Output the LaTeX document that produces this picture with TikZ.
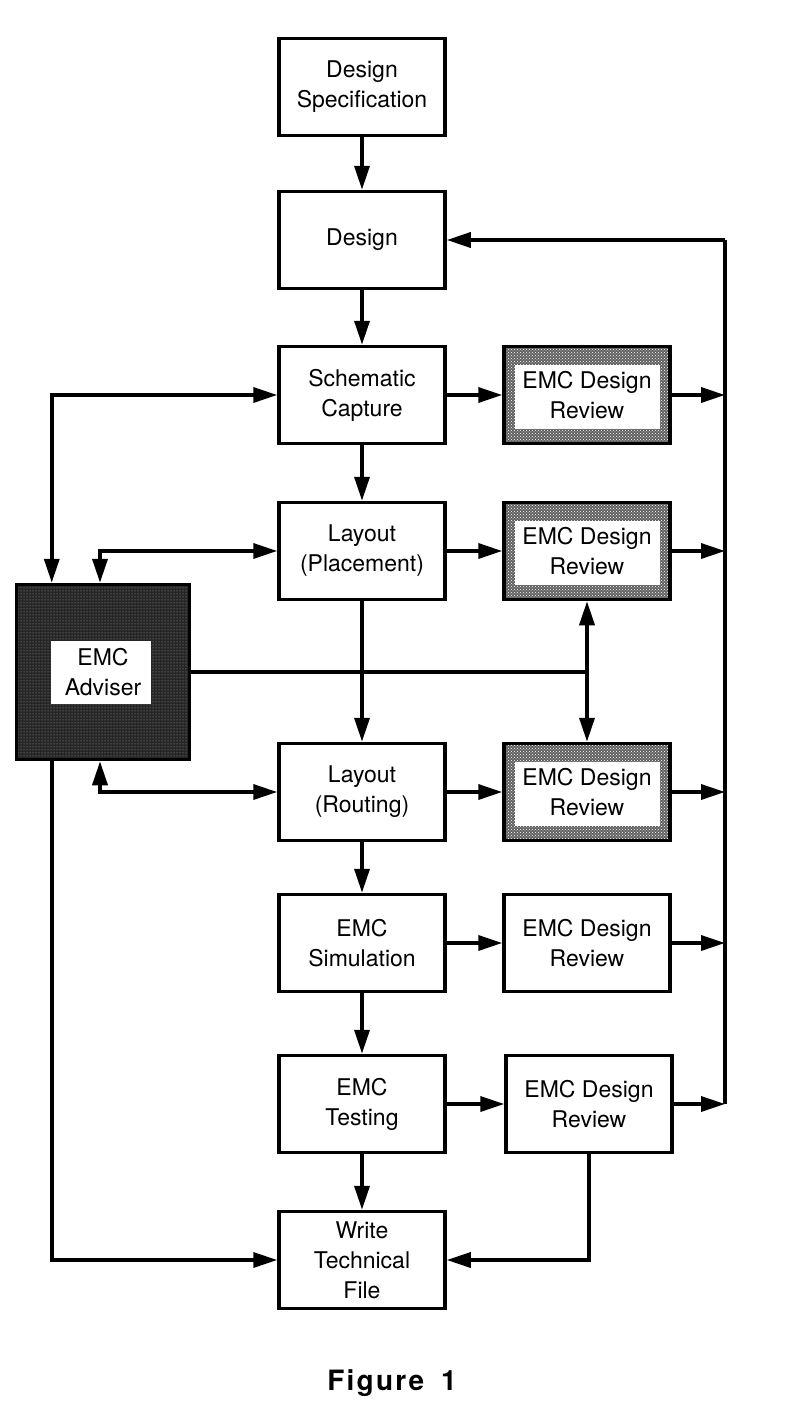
\documentclass[tikz,border=0pt]{standalone}
\usepackage{fontspec}
\setmainfont{TeX Gyre Heros}
\usetikzlibrary{arrows.meta,patterns,positioning}

\tikzset{
  box/.style={draw, line width=3.5pt, minimum width=166pt, minimum height=97pt,
    align=center, font=\fontsize{23}{30}\selectfont},
  revshade/.style={box, preaction={fill=black!62}, pattern=crosshatch dots, pattern color=white,
    path picture={\fill[white] ([shift={(11pt,-18pt)}]path picture bounding box.north west)
      rectangle ([shift={(-10pt,15pt)}]path picture bounding box.south east);}},
  advbox/.style={box, minimum width=173pt, minimum height=175pt,
    preaction={fill=black!85}, pattern=dots, pattern color=gray!70,
    path picture={\fill[white] ([shift={(-52pt,31pt)}]path picture bounding box.center)
      rectangle ([shift={(48pt,-32pt)}]path picture bounding box.center);}},
  conn/.style={line width=3.5pt},
  arr/.style={conn, -{Triangle[length=24pt,width=15pt]}},
  darr/.style={conn, {Triangle[length=24pt,width=15pt]}-{Triangle[length=24pt,width=15pt]}}
}

\begin{document}
\begin{tikzpicture}[x=1pt,y=-1pt]
  \useasboundingbox (0,0) rectangle (786,1416);

  % main flow
  \node[box] (spec) at (362,87) {Design\\Specification};
  \node[box] (des)  at (362,240) {Design};
  \node[box] (cap)  at (362,395) {Schematic\\Capture};
  \node[box] (plc)  at (362,551) {Layout\\(Placement)};
  \node[box] (rte)  at (362,792) {Layout\\(Routing)};
  \node[box] (sim)  at (362,943) {EMC\\Simulation};
  \node[box] (tst)  at (362,1104) {EMC\\Testing};
  \node[box] (wtf)  at (362,1260) {Write\\Technical\\File};

  % reviews
  \node[revshade] (rev1) at (587,395) {EMC Design\\Review};
  \node[revshade] (rev2) at (587,551) {EMC Design\\Review};
  \node[revshade] (rev3) at (587,792) {EMC Design\\Review};
  \node[box]      (rev4) at (587,943) {EMC Design\\Review};
  \node[box]      (rev5) at (589,1104) {EMC Design\\Review};

  % adviser
  \node[advbox] (adv) at (103,672) {EMC\\Adviser};

  \node[font=\fontsize{28}{30}\selectfont\bfseries\addfontfeature{LetterSpace=8}] (fig) at (392,1383) {Figure\hspace{0.6em}1};

  \coordinate (bustop) at (725,240);
  \coordinate (busbot) at (725,1104);

  \draw[arr] (spec) -- (des);
  \draw[arr] (des) -- (cap);
  \draw[arr] (cap) -- (plc);
  \draw[arr] (plc) -- (rte);
  \draw[arr] (rte) -- (sim);
  \draw[arr] (sim) -- (tst);
  \draw[arr] (tst) -- (wtf);

  \draw[arr] (cap) -- (rev1);
  \draw[arr] (plc) -- (rev2);
  \draw[arr] (rte) -- (rev3);
  \draw[arr] (sim) -- (rev4);
  \draw[arr] (tst) -- (rev5);

  % feedback bus
  \draw[conn] (bustop) -- (busbot);
  \draw[arr] (bustop) -- (des);
  \foreach \r in {rev1,rev2,rev3,rev4,rev5}
    \draw[arr] (\r) -- (\r -| bustop);

  % adviser links
  \draw[darr] (cap.west) -| ([xshift=37pt]adv.north west);
  \draw[darr] (plc.west) -| ([xshift=-3pt]adv.north);
  \draw[darr] ([xshift=-3pt]adv.south) |- (rte.west);
  \draw[arr] ([xshift=37pt]adv.south west) |- (wtf.west);
  \draw[conn] (adv.east) -- (adv.east -| rev2.south);
  \draw[darr] (rev2.south) -- (rev3.north);
  \draw[arr] (rev5.south) |- (wtf.east);
\end{tikzpicture}
\end{document}
